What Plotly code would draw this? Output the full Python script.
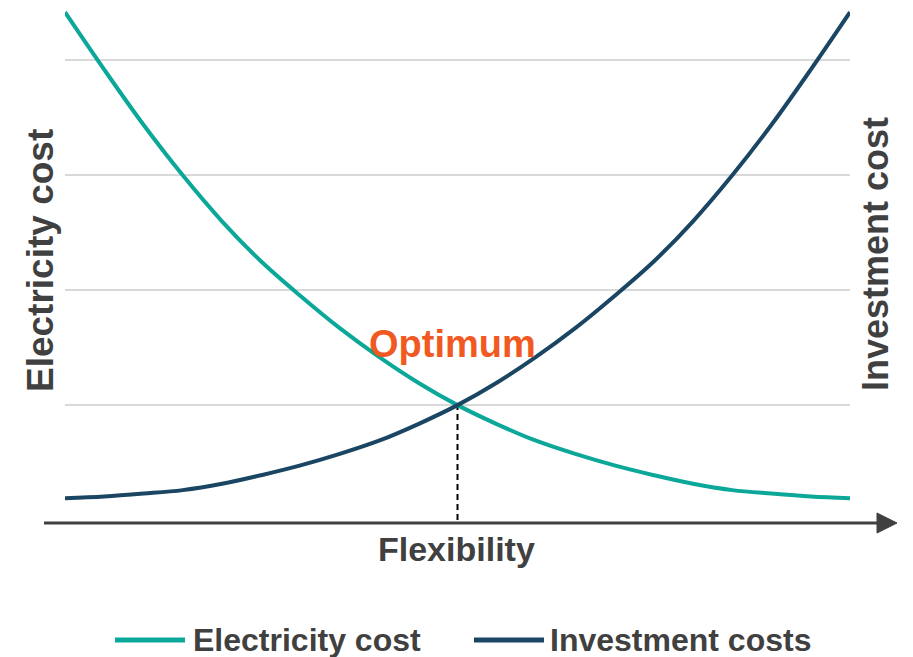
import numpy as np
import plotly.graph_objects as go

# Flexibility level (arbitrary units) and the two cost curves
flexibility = [0, 0.5, 1, 1.5, 2, 2.5, 3, 3.5, 4, 4.5, 5,
               5.5, 6, 6.5, 7, 7.5, 8, 8.5, 9, 9.5, 10]
electricity_cost = [4.42, 3.92, 3.44, 3.00, 2.60, 2.25, 1.95, 1.67, 1.42, 1.195, 1.00,
                    0.835, 0.69, 0.575, 0.475, 0.39, 0.315, 0.26, 0.23, 0.205, 0.19]
investment_costs = [0.19, 0.205, 0.23, 0.26, 0.315, 0.39, 0.475, 0.575, 0.69, 0.835, 1.00,
                    1.195, 1.42, 1.67, 1.95, 2.25, 2.60, 3.00, 3.44, 3.92, 4.42]
series_names = ["Electricity cost", "Investment costs"]

TEAL = "#0BA799"
NAVY = "#1A4664"
ORANGE = "#F05A22"
TEXT = "#404040"
FONT = "Liberation Sans, Arial, sans-serif"

# Figure geometry (pixels)
W, H = 913, 657
ML, MR, MT, MB = 65, 63, 3, 137
PW, PH = W - ML - MR, H - MT - MB


def px_x(px):
    return (px - ML) / PW


def px_y(py):
    return (H - MB - py) / PH


fig = go.Figure()
fig.add_trace(go.Scatter(x=flexibility, y=electricity_cost, mode="lines",
                         name=series_names[0], showlegend=False,
                         line=dict(color=TEAL, width=4, shape="spline", smoothing=1.0)))
fig.add_trace(go.Scatter(x=flexibility, y=investment_costs, mode="lines",
                         name=series_names[1], showlegend=False,
                         line=dict(color=NAVY, width=4, shape="spline", smoothing=1.0)))

# Crossing point of the two curves
diff = np.abs(np.array(electricity_cost) - np.array(investment_costs))
i_opt = int(np.argmin(diff))
x_opt = flexibility[i_opt]
y_opt = electricity_cost[i_opt]

shapes = [
    # dashed drop line from the optimum to the axis
    dict(type="line", xref="x", yref="y", x0=x_opt, x1=x_opt, y0=0, y1=y_opt,
         line=dict(color="black", width=2, dash="6px,4px"), layer="below"),
    # horizontal axis with arrow
    dict(type="line", xref="paper", yref="paper", x0=px_x(44), x1=px_x(880),
         y0=px_y(523), y1=px_y(523), line=dict(color=TEXT, width=3)),
    dict(type="path", xref="paper", yref="paper",
         path=f"M {px_x(877)},{px_y(513)} L {px_x(897)},{px_y(523)} L {px_x(877)},{px_y(533)} Z",
         fillcolor=TEXT, line=dict(color=TEXT, width=1)),
    # legend keys
    dict(type="line", xref="paper", yref="paper", x0=px_x(115), x1=px_x(185),
         y0=px_y(640), y1=px_y(640), line=dict(color=TEAL, width=5)),
    dict(type="line", xref="paper", yref="paper", x0=px_x(474), x1=px_x(544),
         y0=px_y(640), y1=px_y(640), line=dict(color=NAVY, width=5)),
]

annotations = [
    dict(text="<b>Optimum</b>", x=x_opt, y=y_opt, xref="x", yref="y",
         xanchor="center", yanchor="bottom", xshift=-5, yshift=38, showarrow=False,
         font=dict(family=FONT, size=38, color=ORANGE)),
    dict(text="<b>Flexibility</b>", x=px_x(456), y=px_y(549), xref="paper", yref="paper",
         xanchor="center", yanchor="middle", showarrow=False,
         font=dict(family=FONT, size=34, color=TEXT)),
    dict(text="<b>Electricity cost</b>", x=px_x(40), y=px_y(261), xref="paper", yref="paper",
         xanchor="center", yanchor="middle", textangle=-90, showarrow=False,
         font=dict(family=FONT, size=37, color=TEXT)),
    dict(text="<b>Investment cost</b>", x=px_x(876), y=px_y(254), xref="paper", yref="paper",
         xanchor="center", yanchor="middle", textangle=-90, showarrow=False,
         font=dict(family=FONT, size=36, color=TEXT)),
    dict(text="<b>" + series_names[0] + "</b>", x=px_x(191), y=px_y(640), xref="paper",
         yref="paper", xanchor="left", yanchor="middle", showarrow=False,
         font=dict(family=FONT, size=32, color=TEXT)),
    dict(text="<b>" + series_names[1] + "</b>", x=px_x(548), y=px_y(640), xref="paper",
         yref="paper", xanchor="left", yanchor="middle", showarrow=False,
         font=dict(family=FONT, size=32, color=TEXT)),
]

fig.update_layout(
    width=W, height=H,
    margin=dict(l=ML, r=MR, t=MT, b=MB, pad=0),
    paper_bgcolor="white", plot_bgcolor="white",
    showlegend=False,
    shapes=shapes,
    annotations=annotations,
    xaxis=dict(range=[0, 10], showgrid=False, zeroline=False, showline=False,
               showticklabels=False, ticks=""),
    yaxis=dict(range=[0, 4.5], tickvals=[1, 2, 3, 4], showgrid=True,
               gridcolor="#D9D9D9", gridwidth=2, zeroline=False, showline=False,
               showticklabels=False, ticks=""),
)

fig.write_html("out.html", config={"displayModeBar": False})
